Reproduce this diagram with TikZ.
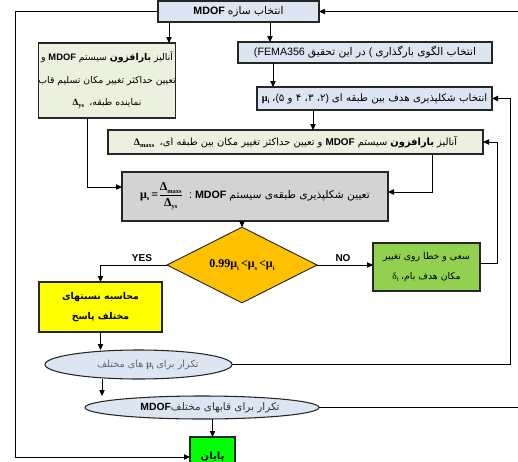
\documentclass[tikz,border=0pt]{standalone}
\usepackage{fontspec}
\setmainfont{Liberation Sans}
\newfontfamily\arfont[Script=Arabic]{DejaVu Sans}
\newfontfamily\grkfont{Liberation Serif}
\usetikzlibrary{arrows.meta,shapes.geometric}
\TeXXeTstate=1
\newcommand\AR[1]{{\arfont\beginR #1\endR}}
\newcommand\MD{{\normalfont\bfseries MDOF}}
\newcommand\gsym[2]{\mbox{\grkfont\bfseries #1\raisebox{-0.45ex}{\fontsize{4.8}{5}\selectfont #2}}}
\newcommand\gsymr[2]{\mbox{\grkfont #1\raisebox{-0.45ex}{\fontsize{4.8}{5}\selectfont #2}}}
\definecolor{cblue}{RGB}{220,230,242}
\definecolor{cgreen}{RGB}{235,241,222}
\definecolor{cgray}{RGB}{211,211,211}
\definecolor{corange}{RGB}{255,192,0}
\definecolor{cgreen2}{RGB}{146,208,80}
\definecolor{cyel}{RGB}{255,255,0}
\definecolor{cpay}{RGB}{0,255,0}
\begin{document}
\begin{tikzpicture}[x=0.75pt,y=-0.75pt,
  every node/.style={inner sep=0pt, outer sep=0pt, font=\fontsize{7}{10}\selectfont},
  bx/.style={draw=black!85, line width=0.9pt, rectangle, align=center},
  sz/.style 2 args={minimum width=#1*0.75pt, minimum height=#2*0.75pt},
  ln/.style={line width=0.75pt, black},
  ar/.style={ln, -{Triangle[length=4.5pt,width=4pt]}},
  lbl/.style={font=\fontsize{7.5}{9}\selectfont\bfseries}
]
\useasboundingbox (0,0) rectangle (518,461);
% nodes
\node[bx, fill=cblue, sz={161}{21}, font=\fontsize{8}{10}\selectfont] (top) at (238.5,11.5) {\MD\ \AR{انتخاب سازه}};
\node[bx, fill=cgreen, sz={136}{75}, font=\fontsize{7}{17}\selectfont] (lg) at (107,80.5)
  {\AR{آنالیز {\bfseries بارافزون} سیستم \MD{} و}\\
   \AR{تعیین حداکثر تغییر مکان تسلیم قاب}\\
   \gsym{Δ}{ys}\ \ \AR{نماینده طبقه،}};
\node[bx, fill=cblue, sz={254}{21}, font=\fontsize{8}{10}\selectfont] (fema) at (365,52.5)
  {(FEMA356\ \AR{در این تحقیق}\ (\ \AR{انتخاب الگوی بارگذاری}};
\node[bx, fill=cblue, sz={235}{23}, font=\fontsize{7.7}{10}\selectfont] (duct) at (374.5,98.5)
  {\gsym{μ}{i}\ \AR{،}(\AR{۲، ۳، ۴ و ۵})\ \AR{انتخاب شکلپذیری هدف بین طبقه ای}};
\node[bx, fill=cgreen, sz={375}{24}, font=\fontsize{7.4}{10}\selectfont] (dmax) at (295.5,142)
  {\gsym{Δ}{maxs}\ \ \AR{آنالیز {\bfseries بارافزون} سیستم \MD{} و تعیین حداکثر تغییر مکان بین طبقه ای،}};
\node[bx, fill=cgray, sz={266}{49}, font=\fontsize{8}{10}\selectfont] (gray) at (255,196.5)
  {{\fontsize{9}{10}\selectfont\gsym{μ}{s}\,{\grkfont\bfseries =}$\displaystyle\frac{\gsym{Δ}{maxs}}{\gsym{Δ}{ys}}$}\ \ :\ \MD\ \AR{تعیین شکلپذیری طبقه‌ی سیستم}};
\node[diamond, draw=black!85, line width=0.7pt, fill=corange, sz={150}{52}, font=\fontsize{9}{10}\selectfont] (dia) at (242,265)
  {{\grkfont\bfseries 0.99}\gsym{μ}{i}\,{\grkfont\bfseries <}\gsym{μ}{s}\,{\grkfont\bfseries <}\gsym{μ}{i}};
\node[bx, fill=cgreen2, sz={107}{48}, font=\fontsize{7}{15}\selectfont] (rgreen) at (426.5,267)
  {\AR{سعی و خطا روی تغییر}\\ \gsymr{δ}{t}\ \AR{مکان هدف بام،}};
\node[bx, fill=cyel, sz={123}{50}, font=\fontsize{7}{15}\selectfont\bfseries] (yellow) at (100.5,307)
  {\AR{محاسبه نسبتهای}\\ \AR{مختلف پاسخ}};
\node[ellipse, draw=black!85, line width=0.8pt, fill=cblue, sz={187}{29}, text=black!60, font=\fontsize{7.3}{10}\selectfont] (ell1) at (138.5,364.5)
  {\hspace*{14pt}\AR{های مختلف}\ \gsym{μ}{i}\ \AR{تکرار برای}};
\node[ellipse, draw=black!85, line width=0.8pt, fill=cblue, sz={234}{23}, text=black!80, font=\fontsize{7.8}{10}\selectfont] (ell2) at (202,407.5)
  {\hspace*{12pt}\textcolor{black}{\MD}\AR{تکرار برای قابهای مختلف}};
\node[bx, fill=cpay, sz={45}{40}, font=\fontsize{7.5}{10}\selectfont\bfseries] (payan) at (212.5,457) {\AR{پایان}};
\node[lbl] (yes) at (142,258) {YES};
\node[lbl] (no) at (343,258) {NO};
% helper coordinates
\coordinate (c1) at (169,0);
\coordinate (c2) at (270,0);
\coordinate (c3) at (273,0);
\coordinate (c4) at (313,0);
\coordinate (k1) at (87,187);
\coordinate (k2) at (432,192);
\coordinate (k3) at (497,263);
\coordinate (k4) at (102,0);
\coordinate (k5) at (510,0);
\coordinate (k6) at (524,0);
\coordinate (kl) at (15,457);
% connectors
\draw[ar] (top.west) -| (kl) -- (payan.west |- kl);
\draw[ar] (top.south -| c1) -- (lg.north -| c1);
\draw[ar] (top.south -| c2) -- (fema.north -| c2);
\draw[ar] (fema.south -| c3) -- (duct.north -| c3);
\draw[ar] (duct.south -| c4) -- (dmax.north -| c4);
\draw[ar] (lg.south -| k1) -- (k1) -- (gray.west |- k1);
\draw[ar] (dmax.south -| k2) -- (k2) -- (gray.east |- k2);
\draw[ar] (gray.south -| dia.north) -- (dia.north);
\draw[ar] (dia.west) -| (yellow.north);
\draw[ar] (dia.east) -- (rgreen.west |- dia.east);
\draw[ar] (rgreen.east |- k3) -- (k3) |- (dmax.east);
\draw[ar] (yellow.south) -- (yellow.south |- ell1.north);
\draw[ar] (ell1.south -| k4) -- (ell2.north -| k4);
\draw[ar] (ell2.south -| payan.north) -- (payan.north);
\draw[ar] (ell1.east) -- (ell1.east -| k5) |- (duct.east);
\draw[ar] (ell2.east) -- (ell2.east -| k6) |- (top.east);
\end{tikzpicture}
\end{document}
